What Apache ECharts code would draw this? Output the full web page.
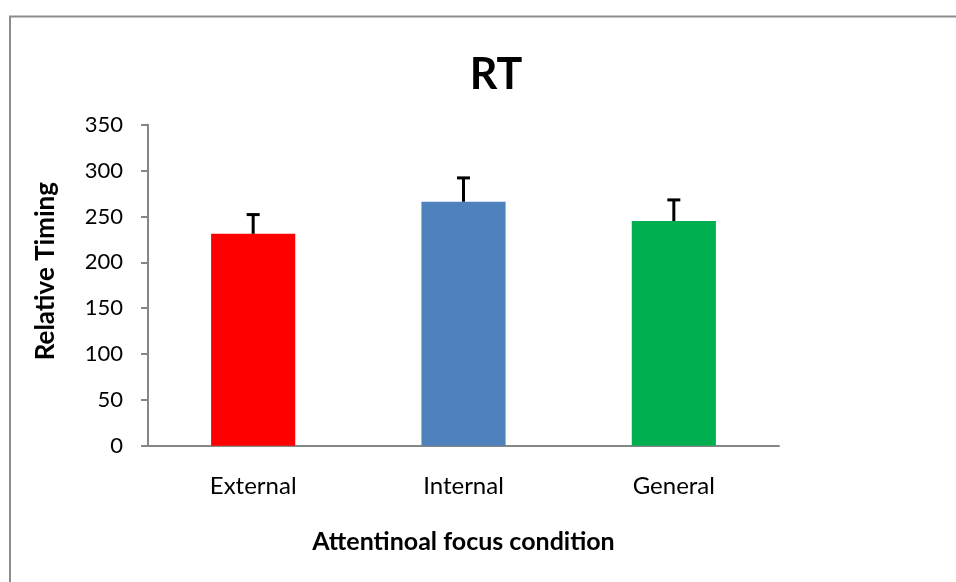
<!DOCTYPE html>
<html><head><meta charset="utf-8">
<script src="https://cdn.jsdelivr.net/npm/echarts@6/dist/echarts.min.js"></script>
<style>html,body{margin:0;padding:0;background:#fff}#c{width:956px;height:582px}</style>
</head><body><div id="c"></div>
<script>
const categories = ['External', 'Internal', 'General'];
const meanValues = [231, 266, 245];
const errorValues = [21, 26, 23];
const barColors = ['#FF0000', '#4F81BD', '#00B050'];
const yTicks = [0, 50, 100, 150, 200, 250, 300, 350];

const chart = echarts.init(document.getElementById('c'), null, {renderer: 'canvas'});
const FONT = 'Lato';
chart.setOption({
  animation: false,
  backgroundColor: '#fff',
  graphic: [{
    type: 'rect', left: 7.5, top: 14, z: -10,
    shape: {x: 0, y: 0, width: 1000, height: 700},
    style: {fill: 'none', stroke: '#8C8C8C', lineWidth: 2}
  }],
  title: {
    text: 'RT', left: 491, top: 49, textAlign: 'center',
    textStyle: {fontFamily: FONT, fontWeight: 'bold', fontSize: 43, color: '#000'}
  },
  grid: {left: 148, right: 177, top: 124.7, bottom: 136.3, containLabel: false},
  xAxis: {
    type: 'category', data: categories,
    name: 'Attentinoal focus condition', nameLocation: 'middle', nameGap: 84,
    nameTextStyle: {fontFamily: FONT, fontWeight: 'bold', fontSize: 25, color: '#000'},
    axisLine: {lineStyle: {color: '#868686', width: 2}},
    axisTick: {show: false},
    axisLabel: {fontFamily: FONT, fontSize: 24, color: '#000', margin: 29}
  },
  yAxis: {
    type: 'value', min: yTicks[0], max: yTicks[yTicks.length - 1], interval: 50,
    name: 'Relative Timing', nameLocation: 'middle', nameGap: 89, nameRotate: 90,
    nameTextStyle: {fontFamily: FONT, fontWeight: 'bold', fontSize: 26, color: '#000', padding: [0, 0, 0, 28]},
    axisLine: {show: true, lineStyle: {color: '#868686', width: 2}},
    axisTick: {show: true, inside: false, length: 7, lineStyle: {color: '#868686', width: 2}},
    splitLine: {show: false},
    axisLabel: {fontFamily: FONT, fontSize: 22, color: '#000', margin: 25}
  },
  series: [{
    type: 'bar', barWidth: '40%',
    data: meanValues.map((v, i) => ({value: v, itemStyle: {color: barColors[i]}}))
  }, {
    type: 'custom',
    data: meanValues.map((v, i) => [i, v, v + errorValues[i]]),
    renderItem: function (params, api) {
      const base = api.coord([api.value(0), api.value(1)]);
      const top = api.coord([api.value(0), api.value(2)]);
      const hw = 6.5;
      return {
        type: 'group',
        children: [{
          type: 'line', shape: {x1: base[0], y1: base[1], x2: top[0], y2: top[1]},
          style: {stroke: '#000', lineWidth: 3}
        }, {
          type: 'line', shape: {x1: top[0] - hw, y1: top[1], x2: top[0] + hw, y2: top[1]},
          style: {stroke: '#000', lineWidth: 3}
        }]
      };
    },
    z: 5
  }]
});
</script></body></html>
